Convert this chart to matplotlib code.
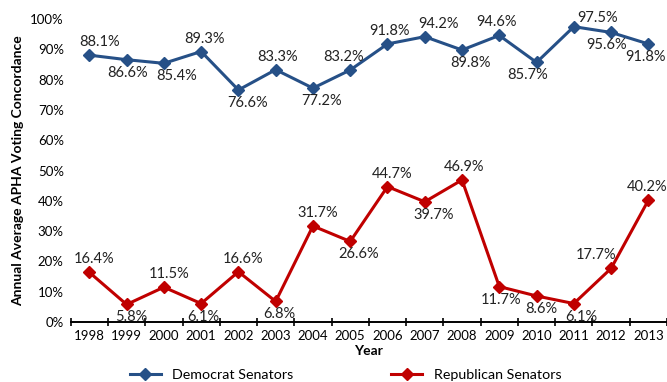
import matplotlib.pyplot as plt
from matplotlib.ticker import PercentFormatter

years = [str(y) for y in range(1998, 2014)]
dem = [88.1, 86.6, 85.4, 89.3, 76.6, 83.3, 77.2, 83.2, 91.8, 94.2, 89.8, 94.6, 85.7, 97.5, 95.6, 91.8]
rep = [16.4, 5.8, 11.5, 6.1, 16.6, 6.8, 31.7, 26.6, 44.7, 39.7, 46.9, 11.7, 8.6, 6.1, 17.7, 40.2]
# label placement: 1 above, -1 below
dem_pos = [1, -1, -1, 1, -1, 1, -1, 1, 1, 1, -1, 1, -1, 1, -1, -1]
rep_pos = [1, -1, 1, -1, 1, -1, 1, -1, 1, -1, 1, -1, -1, -1, 1, 1]
# horizontal nudge of each label, pixels (as excel placed them)
dem_dx = [10, 1, 13, 3, 9, 2, 9, -7, 2, 14, 8, -3, -9, 24, -5, -3]
rep_dx = [5, 5, 5, 2, 5, 4, 5, 8, 5, 9, 2, 2, 5, 7, -15, -1]

plt.rcParams['font.family'] = ['Lato', 'DejaVu Sans']
blue = '#265087'
red = '#C00000'

fig = plt.figure(figsize=(6.67, 3.82), dpi=100)
ax = fig.add_axes([0.106, 0.157, 0.894, 0.793])
x = list(range(len(years)))

ax.plot(x, dem, color=blue, lw=2.2, marker='D', ms=6, label='Democrat Senators')
ax.plot(x, rep, color=red, lw=2.2, marker='D', ms=6, label='Republican Senators')

px = 0.72  # points per pixel at dpi 100
for series, pos, dxs in ((dem, dem_pos, dem_dx), (rep, rep_pos, rep_dx)):
    for i, (v, p, dx) in enumerate(zip(series, pos, dxs)):
        dy = 13 * p
        if series is dem and i == 13:
            dy = 9
        ax.annotate(f'{v}%', (i, v), xytext=(dx * px, dy * px),
                    textcoords='offset points', ha='center', va='center',
                    fontsize=10.5, color='#222222')

ax.set_xlim(-0.5, len(years) - 0.5)
ax.set_ylim(0, 100)
ax.set_yticks(range(0, 101, 10))
ax.yaxis.set_major_formatter(PercentFormatter(decimals=0))
ax.set_xticks(x)
ax.set_xticklabels(years)
ax.set_xticks([i - 0.5 for i in range(len(years) + 1)], minor=True)
ax.tick_params(axis='x', which='major', length=0, labelsize=9.5, pad=6)
ax.tick_params(axis='x', which='minor', length=6, direction='inout', width=1.2)
ax.tick_params(axis='y', length=0, labelsize=9.5, pad=5)
for s in ['top', 'right', 'left']:
    ax.spines[s].set_visible(False)
ax.spines['bottom'].set_linewidth(1.4)

ax.set_xlabel('Year', fontweight='bold', fontsize=10, labelpad=2)
ax.set_ylabel('Annual Average APHA Voting Concordance', fontweight='bold', fontsize=10, labelpad=4)

fig.legend(loc='lower center', bbox_to_anchor=(0.518, -0.03), ncol=2, frameon=False,
           fontsize=10.3, columnspacing=6.8, handlelength=2.2, handletextpad=0.8)

fig.savefig('out.png', dpi=100)
